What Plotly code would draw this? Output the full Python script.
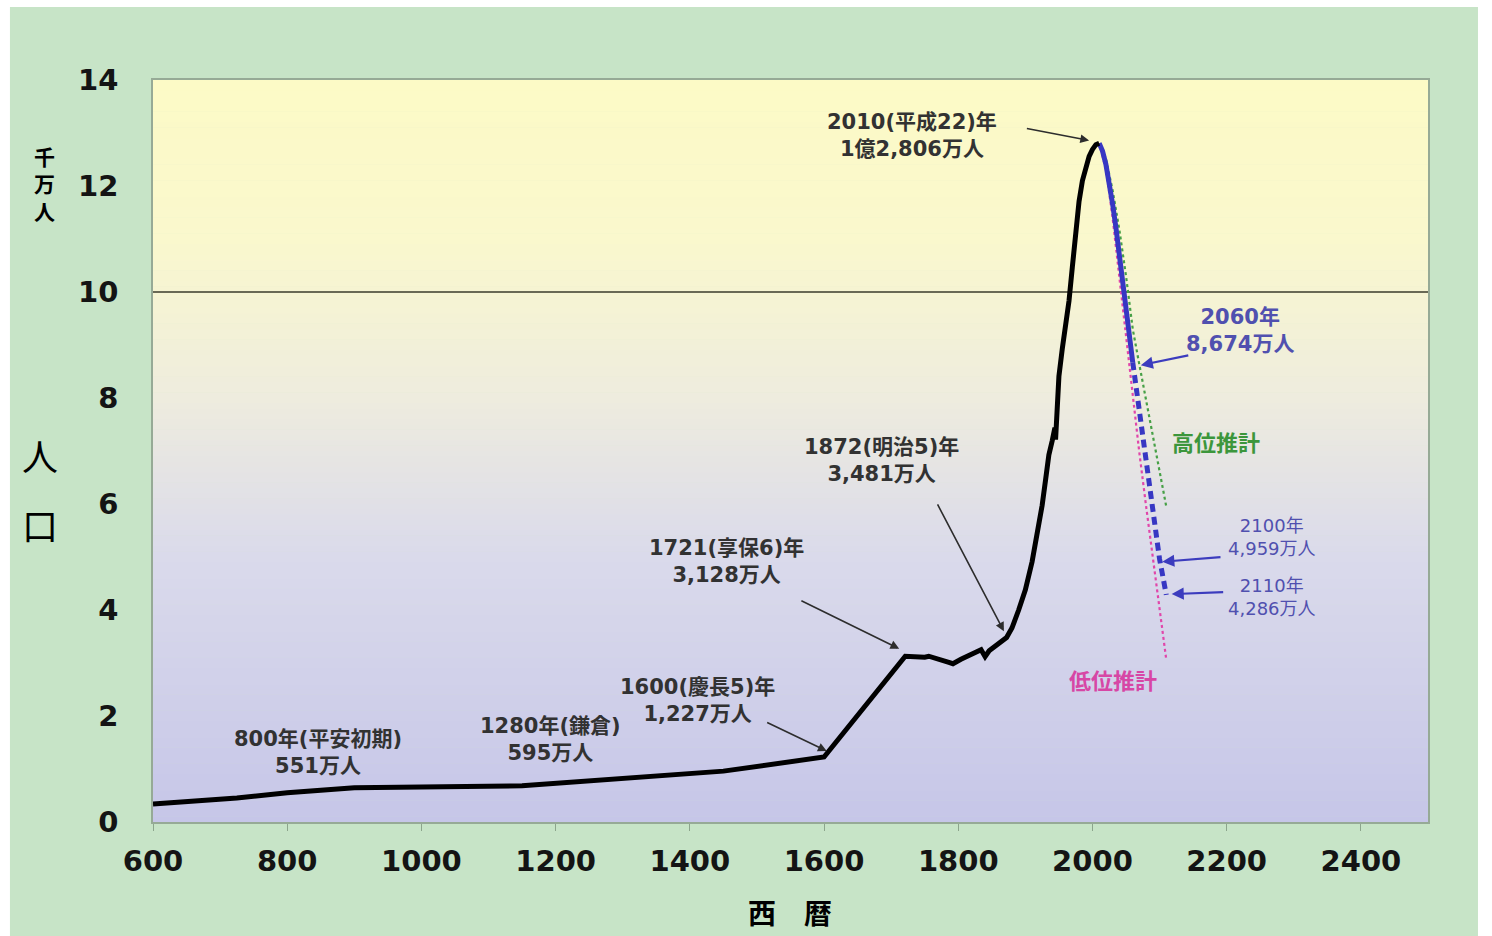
import plotly.graph_objects as go

# ---- data (population in units of 10 million people) ----
hist_years = [600, 725, 800, 900, 1150, 1450, 1600, 1721, 1750, 1756, 1786, 1792,
              1804, 1822, 1834, 1840, 1846, 1872, 1880, 1890, 1900, 1910, 1920,
              1925, 1930, 1935, 1940, 1944, 1945, 1947, 1950, 1955, 1960, 1965,
              1970, 1975, 1980, 1985, 1990, 1995, 2000, 2005, 2010]
hist_pop = [0.34, 0.451, 0.551, 0.644, 0.684, 0.96, 1.227, 3.128, 3.11, 3.128, 3.01, 2.987,
            3.07, 3.19, 3.25, 3.12, 3.23, 3.481, 3.66, 4.0, 4.38, 4.91, 5.596,
            5.974, 6.445, 6.925, 7.193, 7.44, 7.215, 7.81, 8.41, 8.93, 9.34, 9.83,
            10.47, 11.19, 11.71, 12.10, 12.36, 12.56, 12.69, 12.78, 12.806]

mid_years_a = [2010, 2015, 2020, 2025, 2030, 2035, 2040, 2045, 2050, 2055, 2060]
mid_pop_a = [12.806, 12.66, 12.41, 12.07, 11.66, 11.21, 10.73, 10.22, 9.71, 9.19, 8.674]
mid_years_b = [2060, 2070, 2080, 2090, 2100, 2110]
mid_pop_b = [8.674, 7.70, 6.75, 5.85, 4.959, 4.286]

high_years = [2010, 2020, 2030, 2040, 2050, 2060, 2070, 2080, 2090, 2100, 2110]
high_pop = [12.806, 12.52, 11.92, 11.18, 10.30, 9.30, 8.62, 7.95, 7.25, 6.60, 5.95]

low_years = [2010, 2020, 2030, 2040, 2050, 2060, 2070, 2080, 2090, 2100, 2110]
low_pop = [12.806, 12.32, 11.40, 10.30, 9.20, 7.997, 6.95, 5.95, 4.95, 4.00, 3.06]

x_ticks = [600, 800, 1000, 1200, 1400, 1600, 1800, 2000, 2200, 2400]
y_ticks = [0, 2, 4, 6, 8, 10, 12, 14]

FONT = "'DejaVu Sans', 'Noto Sans CJK JP', sans-serif"
CJK = "'Noto Sans CJK JP', 'DejaVu Sans', sans-serif"

fig = go.Figure()

fig.add_trace(go.Scatter(x=high_years, y=high_pop, mode="lines",
                         line=dict(color="rgb(70,160,70)", width=2.2, dash="dot"),
                         hoverinfo="skip"))
fig.add_trace(go.Scatter(x=low_years, y=low_pop, mode="lines",
                         line=dict(color="rgb(225,70,170)", width=2.2, dash="dot"),
                         hoverinfo="skip"))
fig.add_trace(go.Scatter(x=mid_years_a, y=mid_pop_a, mode="lines",
                         line=dict(color="rgb(55,55,195)", width=5),
                         hoverinfo="skip"))
fig.add_trace(go.Scatter(x=mid_years_b, y=mid_pop_b, mode="lines",
                         line=dict(color="rgb(55,55,195)", width=5, dash="8px,5px"),
                         hoverinfo="skip"))
fig.add_trace(go.Scatter(x=hist_years, y=hist_pop, mode="lines",
                         line=dict(color="black", width=5),
                         hoverinfo="skip"))

shapes = []
# green panel behind the whole chart
shapes.append(dict(type="rect", xref="paper", yref="paper",
                   x0=-0.1122, x1=1.0392, y0=-0.16, y1=1.0984,
                   fillcolor="rgb(199,228,199)", line=dict(width=0), layer="below"))

# vertical colour gradient inside the plotting area
stops = [(0.0, (198, 198, 232)), (5.0, (218, 218, 235)), (8.0, (238, 236, 222)),
         (11.0, (250, 248, 205)), (14.0, (252, 250, 198))]


def grad_color(v):
    for (a, ca), (b, cb) in zip(stops[:-1], stops[1:]):
        if a <= v <= b:
            t = (v - a) / (b - a)
            return "rgb(%d,%d,%d)" % tuple(round(ca[i] + (cb[i] - ca[i]) * t) for i in range(3))
    return "rgb(%d,%d,%d)" % stops[-1][1]


n_bands = 140
for i in range(n_bands):
    y0 = 14 * i / n_bands
    y1 = 14 * (i + 1) / n_bands
    shapes.append(dict(type="rect", xref="x domain", yref="y", x0=0, x1=1,
                       y0=y0, y1=y1 + 0.01, fillcolor=grad_color((y0 + y1) / 2),
                       line=dict(width=0), layer="below"))

# reference line at 100 million
shapes.append(dict(type="line", xref="x domain", yref="y", x0=0, x1=1, y0=10, y1=10,
                   line=dict(color="rgb(105,105,85)", width=2), layer="below"))

annotations = []


def arrow(tail, head, color="rgb(45,45,45)", width=1.6):
    annotations.append(dict(x=head[0], y=head[1], ax=tail[0], ay=tail[1],
                            xref="x", yref="y", axref="x", ayref="y",
                            text="", showarrow=True, arrowhead=2, arrowsize=1.1,
                            arrowwidth=width, arrowcolor=color))


def label(x, y, text, size=21, color="rgb(50,50,50)"):
    annotations.append(dict(x=x, y=y, xref="x", yref="y", text=text, showarrow=False,
                            font=dict(family=FONT, size=size, color=color),
                            align="center"))


label(1731, 12.96, "<b>2010(平成22)年<br>1億2,806万人</b>")
arrow((1900, 13.09), (1995, 12.86))
label(1686, 6.83, "<b>1872(明治5)年<br>3,481万人</b>")
arrow((1768, 6.02), (1868, 3.6))
label(1454, 4.92, "<b>1721(享保6)年<br>3,128万人</b>")
arrow((1564, 4.19), (1712, 3.27))
label(1411, 2.30, "<b>1600(慶長5)年<br>1,227万人</b>")
arrow((1513, 1.89), (1604, 1.34))
label(1193, 1.55, "<b>1280年(鎌倉)<br>595万人</b>")
label(846, 1.32, "<b>800年(平安初期)<br>551万人</b>")

blue = "rgb(80,80,175)"
label(2220, 9.28, "<b>2060年<br>8,674万人</b>", size=21, color=blue)
arrow((2145, 8.81), (2072, 8.62), color="rgb(60,60,190)", width=2.2)
label(2184, 7.15, "<b>高位推計</b>", size=22, color="rgb(60,150,60)")
label(2268, 5.38, "2100年<br>4,959万人", size=18, color=blue)
arrow((2193, 5.0), (2104, 4.91), color="rgb(60,60,190)", width=2.2)
label(2268, 4.25, "2110年<br>4,286万人", size=18, color=blue)
arrow((2197, 4.34), (2118, 4.30), color="rgb(60,60,190)", width=2.2)
label(2031, 2.66, "<b>低位推計</b>", size=22, color="rgb(215,70,165)")

# axis titles placed in paper coordinates
annotations.append(dict(x=-0.089, y=(822 - 455) / 742, xref="paper", yref="paper",
                        text="人", showarrow=False,
                        font=dict(family=CJK, size=36, color="black"),
                        xanchor="center", yanchor="middle"))
annotations.append(dict(x=-0.089, y=(822 - 524) / 742, xref="paper", yref="paper",
                        text="口", showarrow=False,
                        font=dict(family=CJK, size=36, color="black"),
                        xanchor="center", yanchor="middle"))
annotations.append(dict(x=-0.085, y=(822 - 183) / 742, xref="paper", yref="paper",
                        text="<b>千<br>万<br>人</b>", showarrow=False,
                        font=dict(family=CJK, size=21, color="black"),
                        xanchor="center", yanchor="middle"))
annotations.append(dict(x=(790 - 153) / 1275, y=(822 - 912) / 742, xref="paper", yref="paper",
                        text="<b>西　暦</b>", showarrow=False,
                        font=dict(family=CJK, size=28, color="black"),
                        xanchor="center", yanchor="middle"))

fig.update_layout(
    width=1492, height=936,
    margin=dict(l=153, r=64, t=80, b=114),
    paper_bgcolor="white",
    plot_bgcolor="rgba(0,0,0,0)",
    showlegend=False,
    shapes=shapes,
    annotations=annotations,
    xaxis=dict(range=[600, 2500], tickvals=x_ticks, showgrid=False, zeroline=False,
               showline=True, linecolor="rgb(150,170,150)", linewidth=1.5, mirror=True,
               ticks="outside", ticklen=7, tickcolor="rgb(140,165,140)",
               tickfont=dict(family=FONT, size=29, color="rgb(20,20,20)", weight="bold"),
               ticklabelstandoff=5),
    yaxis=dict(range=[0, 14], tickvals=y_ticks, showgrid=False, zeroline=False,
               showline=True, linecolor="rgb(150,170,150)", linewidth=1.5, mirror=True,
               ticks="", tickfont=dict(family=FONT, size=29, color="rgb(20,20,20)", weight="bold"),
               ticklabelstandoff=27),
)

fig.write_html("out.html")
